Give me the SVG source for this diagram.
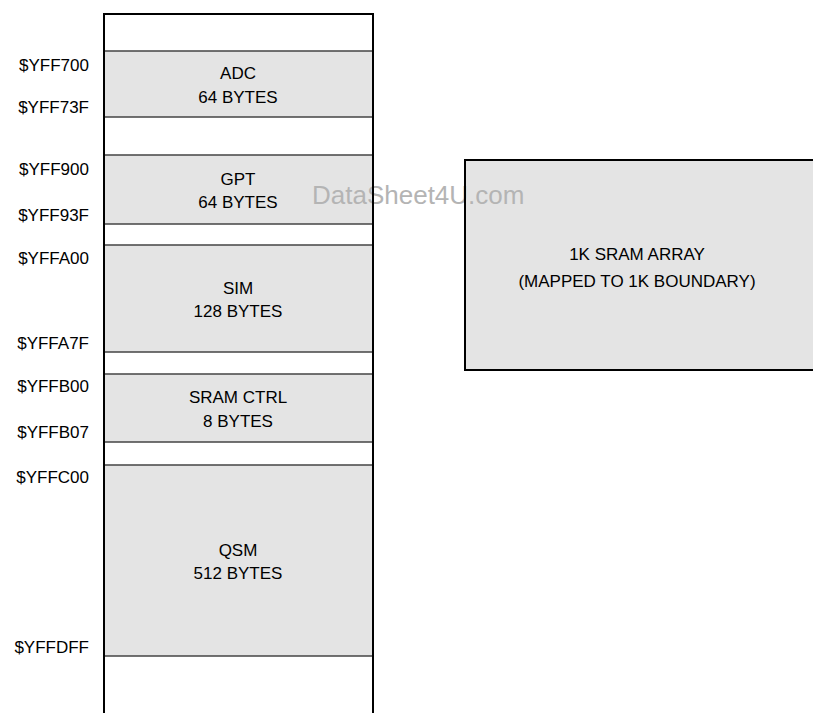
<svg xmlns="http://www.w3.org/2000/svg" width="813" height="713" viewBox="0 0 813 713">
<style>
.band{fill:#e4e4e4;stroke:#444;stroke-width:1.5}
.frame{fill:none;stroke:#000;stroke-width:2}
.t{font-family:"Liberation Sans",Arial,sans-serif;font-size:17px;fill:#000}
.c{text-anchor:middle}
.a{text-anchor:end}
.wm{font-family:"Liberation Sans",Arial,sans-serif;font-size:26px;fill:#b4b4b4}
</style>
<rect x="0" y="0" width="813" height="713" fill="#fff"/>
<g id="adc">
<rect class="band" x="104" y="51" width="269" height="66"/>
<text class="t c" x="238" y="79">ADC</text>
<text class="t c" x="238" y="103">64 BYTES</text>
</g>
<g id="gpt">
<rect class="band" x="104" y="155" width="269" height="69"/>
<text class="t c" x="238" y="185">GPT</text>
<text class="t c" x="238" y="208">64 BYTES</text>
</g>
<g id="sim">
<rect class="band" x="104" y="245" width="269" height="107"/>
<text class="t c" x="238" y="294">SIM</text>
<text class="t c" x="238" y="317">128 BYTES</text>
</g>
<g id="sramctrl">
<rect class="band" x="104" y="374" width="269" height="68"/>
<text class="t c" x="238" y="403">SRAM CTRL</text>
<text class="t c" x="238" y="427">8 BYTES</text>
</g>
<g id="qsm">
<rect class="band" x="104" y="465" width="269" height="191"/>
<text class="t c" x="238" y="556">QSM</text>
<text class="t c" x="238" y="579">512 BYTES</text>
</g>
<g id="sram-array">
<rect x="465" y="160" width="352" height="210" fill="#e4e4e4" stroke="#000" stroke-width="2"/>
<text class="t c" x="637" y="260">1K SRAM ARRAY</text>
<text class="t c" x="637" y="287">(MAPPED TO 1K BOUNDARY)</text>
</g>
<text class="wm" x="312" y="204">DataSheet4U.com</text>
<g id="memory-frame">
<path class="frame" d="M104,714 V14 H373 V714"/>
<line x1="465" y1="160" x2="465" y2="370" stroke="#000" stroke-width="2"/>
</g>
<g id="addresses">
<text class="t a" x="89" y="71">$YFF700</text>
<text class="t a" x="89" y="113">$YFF73F</text>
<text class="t a" x="89" y="175">$YFF900</text>
<text class="t a" x="89" y="221">$YFF93F</text>
<text class="t a" x="89" y="264">$YFFA00</text>
<text class="t a" x="89" y="349">$YFFA7F</text>
<text class="t a" x="89" y="392">$YFFB00</text>
<text class="t a" x="89" y="438">$YFFB07</text>
<text class="t a" x="89" y="483">$YFFC00</text>
<text class="t a" x="89" y="653">$YFFDFF</text>
</g>
</svg>
